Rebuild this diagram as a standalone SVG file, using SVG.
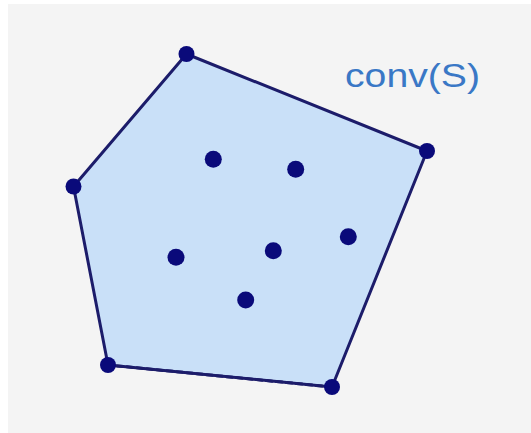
<svg xmlns="http://www.w3.org/2000/svg" width="531" height="433" viewBox="0 0 531 433">
<style>
.pt{fill:#0a0a7a;stroke:none}
.edge{stroke:#1c1c6a;stroke-width:3;fill:none;stroke-linecap:round}
.label{font-family:"Liberation Sans",Arial,sans-serif;font-size:34px;fill:#3a78c6}
</style>
<rect x="0" y="0" width="531" height="433" fill="#ffffff"/>
<rect x="8" y="4" width="523" height="429" fill="#f4f4f4"/>
<polygon id="hull" points="186.5,54 427,151 332,387 108,365 73.5,186.5" fill="#c9e0f8" stroke="none"/>
<g id="connectors">
<line class="edge" x1="186.5" y1="54" x2="427" y2="151"/>
<line class="edge" x1="427" y1="151" x2="332" y2="387"/>
<line class="edge" x1="332" y1="387" x2="108" y2="365" stroke-width="4" stroke="#4a4a5a"/>
<line class="edge" x1="332" y1="387" x2="108" y2="365" stroke-dasharray="6 4"/>
<line class="edge" x1="108" y1="365" x2="73.5" y2="186.5"/>
<line class="edge" x1="73.5" y1="186.5" x2="186.5" y2="54"/>
</g>
<g id="v1"><circle class="pt" cx="186.5" cy="54" r="8"/></g>
<g id="v2"><circle class="pt" cx="427" cy="151" r="8"/></g>
<g id="v3"><circle class="pt" cx="332" cy="387" r="8"/></g>
<g id="v4"><circle class="pt" cx="108" cy="365" r="8"/></g>
<g id="v5"><circle class="pt" cx="73.5" cy="186.5" r="8"/></g>
<g id="p1"><circle class="pt" cx="213.3" cy="159.3" r="8.5"/></g>
<g id="p2"><circle class="pt" cx="295.7" cy="169.3" r="8.5"/></g>
<g id="p3"><circle class="pt" cx="348.3" cy="236.7" r="8.5"/></g>
<g id="p4"><circle class="pt" cx="273.3" cy="250.7" r="8.5"/></g>
<g id="p5"><circle class="pt" cx="176" cy="257.3" r="8.5"/></g>
<g id="p6"><circle class="pt" cx="245.7" cy="300" r="8.5"/></g>
<g id="label"><text class="label" x="345" y="87" textLength="135" lengthAdjust="spacingAndGlyphs">conv(S)</text></g>
</svg>
